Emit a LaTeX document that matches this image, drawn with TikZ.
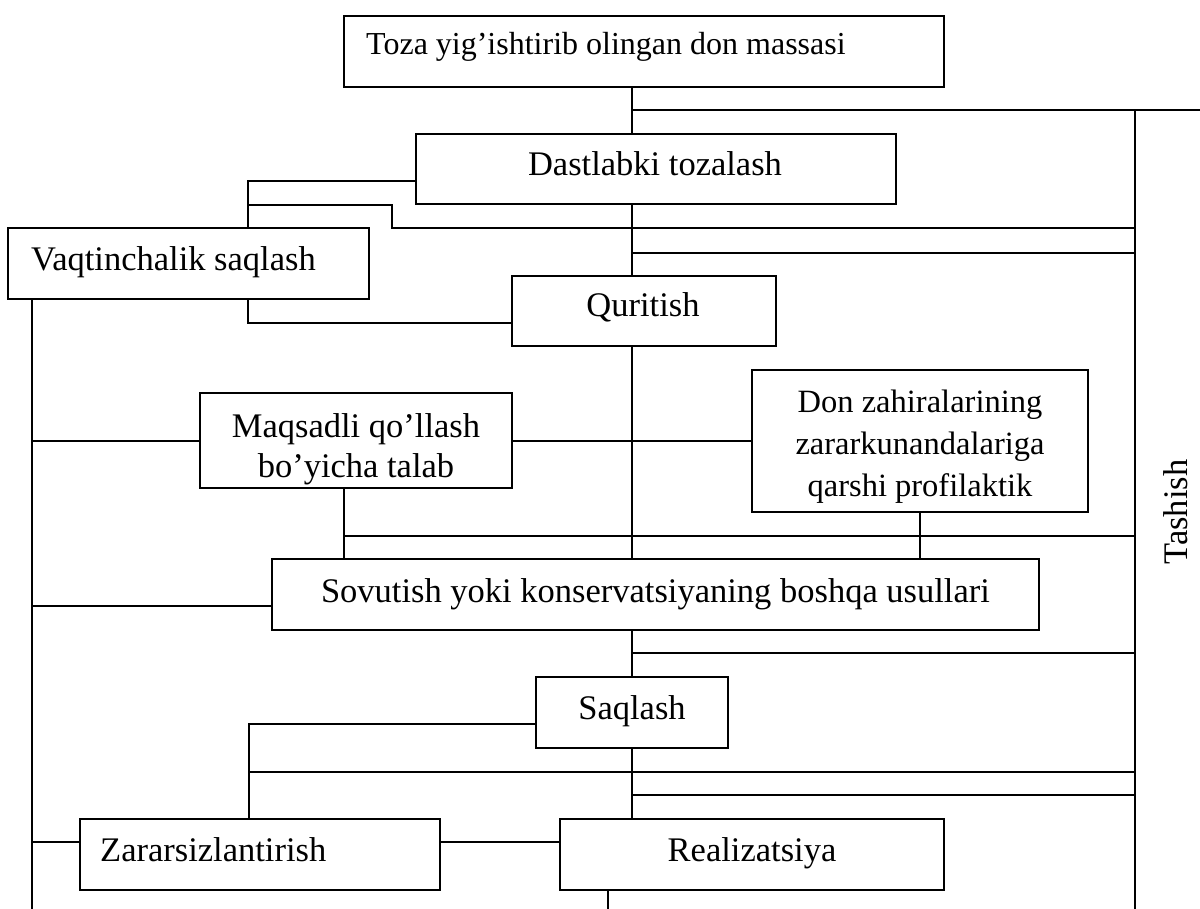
\documentclass[tikz,border=0pt]{standalone}
\usepackage{fontspec}
\setmainfont{Liberation Serif}
\begin{document}
\begin{tikzpicture}[x=1pt,y=-1pt,
  box/.style={draw, line width=1.6pt, inner sep=0pt},
  conn/.style={line width=1.5pt},
  txt/.style={inner sep=0pt, font=\fontsize{34.5}{40}\selectfont},
  txtsm/.style={inner sep=0pt, font=\fontsize{32}{38}\selectfont},
  txtdon/.style={inner sep=0pt, align=center, font=\fontsize{32.5}{42}\selectfont}]
\useasboundingbox (0,0) rectangle (1200,909);
% boxes
\node[box, minimum width=600pt, minimum height=71pt] (toza) at (644,51.5) {};
\node[box, minimum width=480pt, minimum height=70pt] (dast) at (656,169) {};
\node[box, minimum width=361pt, minimum height=71pt] (vaqt) at (188.5,263.5) {};
\node[box, minimum width=264pt, minimum height=70pt] (qur) at (644,311) {};
\node[box, minimum width=312pt, minimum height=95pt] (maq) at (356,440.5) {};
\node[box, minimum width=336pt, minimum height=142pt] (don) at (920,441) {};
\node[box, minimum width=767pt, minimum height=71pt] (sov) at (655.5,594.5) {};
\node[box, minimum width=192pt, minimum height=71pt] (saq) at (632,712.5) {};
\node[box, minimum width=360pt, minimum height=71pt] (zar) at (260,854.5) {};
\node[box, minimum width=384pt, minimum height=71pt] (real) at (752,854.5) {};
% texts
\node[txtsm, anchor=base west] (tozat) at (366,55) {Toza yig’ishtirib olingan don massasi};
\node[txt, anchor=base] (dastt) at (655,176) {Dastlabki tozalash};
\node[txt, anchor=base west] (vaqtt) at (31,271) {Vaqtinchalik saqlash};
\node[txt, anchor=base] (qurt) at (643,317) {Quritish};
\node[txt, align=center] (maqt) at (356,449) {Maqsadli qo’llash\\bo’yicha talab};
\node[txtdon] (dont) at (920,447) {Don zahiralarining\\zararkunandalariga\\qarshi profilaktik};
\node[txt, anchor=base] (sovt) at (655.5,602) {Sovutish yoki konservatsiyaning boshqa usullari};
\node[txt, anchor=base] (saqt) at (632,719) {Saqlash};
\node[txt, anchor=base west] (zart) at (100,861) {Zararsizlantirish};
\node[txt, anchor=base] (realt) at (752,861) {Realizatsiya};
\node[txt, rotate=90] (tash) at (1176,512) {Tashish};
% bus coordinates
\coordinate (spine) at (632,0);
\coordinate (rbus) at (1135,0);
\coordinate (lbus) at (32,0);
\coordinate (rtop) at (1135,110);
\coordinate (rbot) at (1135,909);
\coordinate (redge) at (1200,110);
\coordinate (lbot) at (32,909);
% connectors
\draw[conn] (toza.south -| spine) -- (dast.north -| spine);
\draw[conn] (spine |- redge) -- (redge);
\draw[conn] (rtop) -- (rbot);
\draw[conn] (dast.west |- 0,181) -| (vaqt.north -| 248,0);
\draw[conn] (248,205) -- (392,205) -- (392,228) -- (rbus |- 0,228);
\draw[conn] (dast.south -| spine) -- (qur.north -| spine);
\draw[conn] (spine |- 0,253) -- (rbus |- 0,253);
\draw[conn] (vaqt.south -| 248,0) |- (qur.west |- 0,323);
\draw[conn] (vaqt.south -| lbus) -- (lbot);
\draw[conn] (lbus |- 0,441) -- (maq.west |- 0,441);
\draw[conn] (maq.east |- 0,441) -- (don.west |- 0,441);
\draw[conn] (qur.south -| spine) -- (sov.north -| spine);
\draw[conn] (maq.south -| 344,0) -- (sov.north -| 344,0);
\draw[conn] (344,536) -- (rbus |- 0,536);
\draw[conn] (don.south) -- (sov.north -| don.south);
\draw[conn] (lbus |- 0,606) -- (sov.west |- 0,606);
\draw[conn] (sov.south -| spine) -- (saq.north);
\draw[conn] (spine |- 0,653) -- (rbus |- 0,653);
\draw[conn] (saq.west |- 0,724) -| (zar.north -| 249,0);
\draw[conn] (249,772) -- (rbus |- 0,772);
\draw[conn] (saq.south) -- (real.north -| spine);
\draw[conn] (spine |- 0,795) -- (rbus |- 0,795);
\draw[conn] (lbus |- 0,842) -- (zar.west |- 0,842);
\draw[conn] (zar.east |- 0,842) -- (real.west |- 0,842);
\draw[conn] (real.south -| 608,0) -- (608,909);
\end{tikzpicture}
\end{document}
